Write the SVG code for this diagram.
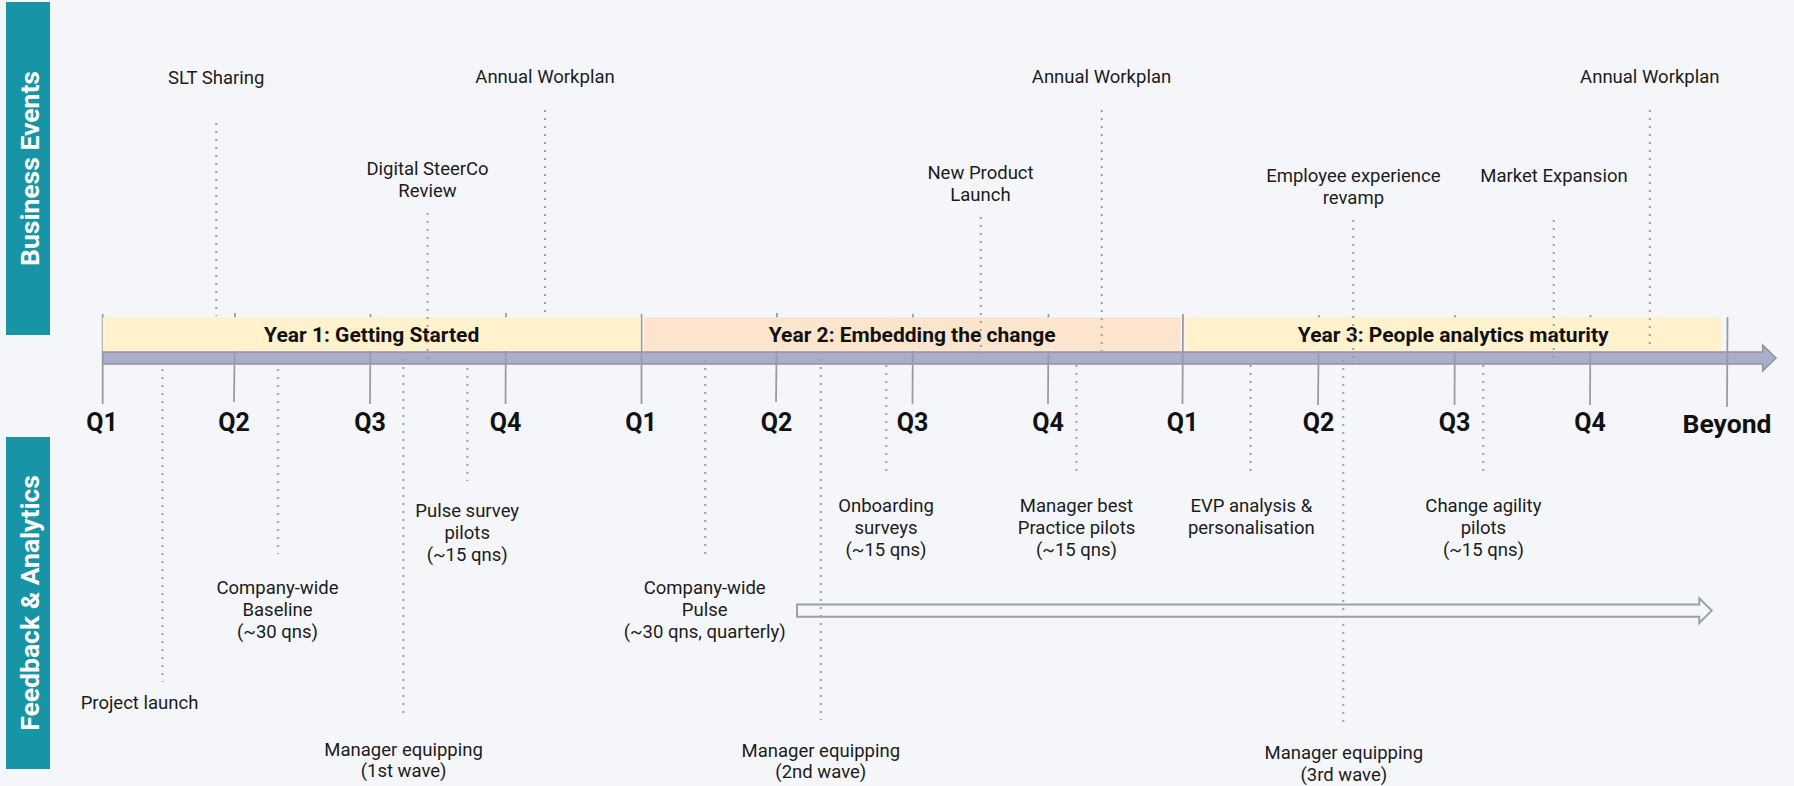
<svg xmlns="http://www.w3.org/2000/svg" width="1794" height="786" viewBox="0 0 1794 786">
  <style>
    .side { fill: #1795a6; }
    .side-label { font-family: Roboto, "Liberation Sans", sans-serif; font-weight: 700; font-size: 26.5px; fill: #ffffff; text-anchor: middle; }
    .tick { stroke: #989da5; stroke-width: 1.8; fill: none; }
    .dot { stroke: #9ba0a8; stroke-width: 2; stroke-dasharray: 2 6; fill: none; }
    .year-label { font-family: Roboto, "Liberation Sans", sans-serif; font-weight: 700; font-size: 21px; fill: #111111; text-anchor: middle; }
    .q { font-family: Roboto, "Liberation Sans", sans-serif; font-weight: 700; font-size: 25px; fill: #111111; text-anchor: middle; }
    .lbl { font-family: Roboto, "Liberation Sans", sans-serif; font-size: 18.5px; fill: #1c1c1c; text-anchor: middle; }
  </style>

  <!-- page -->
  <rect x="0" y="0" width="1794" height="786" fill="#f4f6fa"/>

  <!-- swimlane headers -->
  <g id="lane-business">
    <rect class="side" x="6" y="2" width="44" height="333"/>
    <text class="side-label" transform="translate(38.5,168.5) rotate(-90)">Business Events</text>
  </g>
  <g id="lane-feedback">
    <rect class="side" x="6" y="437" width="44" height="332"/>
    <text class="side-label" transform="translate(38.5,603) rotate(-90)">Feedback &amp; Analytics</text>
  </g>

  <!-- timeline axis -->
  <g id="axis">
    <polygon points="102.7,352 1762.7,352 1762.7,345 1776,358 1762.7,371 1762.7,364 102.7,364" fill="#a9aec9" stroke="#8e939d" stroke-width="1.5"/>
    <g id="quarter-ticks">
      <line class="tick" x1="102.7" y1="314" x2="102.7" y2="404"/>
      <line class="tick" x1="235" y1="313" x2="234" y2="402"/>
      <line class="tick" x1="370.5" y1="314" x2="370" y2="404"/>
      <line class="tick" x1="506" y1="313" x2="505.5" y2="404"/>
      <line class="tick" x1="641.5" y1="314" x2="641.5" y2="404"/>
      <line class="tick" x1="777" y1="313" x2="776" y2="402"/>
      <line class="tick" x1="913" y1="314" x2="912.5" y2="404"/>
      <line class="tick" x1="1048.5" y1="314" x2="1048" y2="404"/>
      <line class="tick" x1="1183" y1="314" x2="1182.5" y2="404"/>
      <line class="tick" x1="1319" y1="315" x2="1318" y2="405"/>
      <line class="tick" x1="1455" y1="315" x2="1454.5" y2="405"/>
      <line class="tick" x1="1590.5" y1="315" x2="1590" y2="405"/>
      <line class="tick" x1="1727.5" y1="317" x2="1727" y2="407"/>
    </g>
  </g>

  <!-- year bands -->
  <g id="year-1">
    <rect x="102.7" y="317.3" width="538" height="33.7" fill="#fff2cc"/>
    <text class="year-label" x="371.7" y="341.5">Year 1: Getting Started</text>
  </g>
  <g id="year-2">
    <rect x="643.7" y="317.3" width="537" height="33.7" fill="#fde5cd"/>
    <text class="year-label" x="912.2" y="341.5">Year 2: Embedding the change</text>
  </g>
  <g id="year-3">
    <rect x="1184.7" y="317.3" width="537" height="33.7" fill="#fff2cc"/>
    <text class="year-label" x="1453.2" y="341.5">Year 3: People analytics maturity</text>
  </g>

  <!-- quarter labels -->
  <g id="quarter-labels">
    <text class="q" x="102" y="431">Q1</text>
    <text class="q" x="234" y="431">Q2</text>
    <text class="q" x="370" y="431">Q3</text>
    <text class="q" x="505.5" y="431">Q4</text>
    <text class="q" x="641" y="431">Q1</text>
    <text class="q" x="776.5" y="431">Q2</text>
    <text class="q" x="912.5" y="431">Q3</text>
    <text class="q" x="1048" y="431">Q4</text>
    <text class="q" x="1182.5" y="431">Q1</text>
    <text class="q" x="1318.5" y="431">Q2</text>
    <text class="q" x="1454.5" y="431">Q3</text>
    <text class="q" x="1590" y="431">Q4</text>
    <text class="q" x="1727" y="433" style="font-size:26.5px">Beyond</text>
  </g>

  <!-- ongoing quarterly pulse -->
  <g id="pulse-arrow">
    <polygon points="797,604.5 1699.3,604.5 1699.3,598.3 1711.7,610.6 1699.3,623 1699.3,616.7 797,616.7" fill="none" stroke="#9ba0a8" stroke-width="2"/>
  </g>

  <!-- event leader lines -->
  <g id="connectors">
    <line class="dot" x1="216.2" y1="123" x2="216.2" y2="316"/>
    <line class="dot" x1="427.5" y1="213" x2="427.5" y2="360"/>
    <line class="dot" x1="545" y1="110" x2="545" y2="312"/>
    <line class="dot" x1="980.8" y1="217" x2="980.8" y2="354"/>
    <line class="dot" x1="1101.7" y1="110" x2="1101.7" y2="351"/>
    <line class="dot" x1="1353.2" y1="220" x2="1353.2" y2="365"/>
    <line class="dot" x1="1553.7" y1="220" x2="1553.7" y2="365"/>
    <line class="dot" x1="1649.8" y1="110" x2="1649.8" y2="350"/>

    <line class="dot" x1="162.5" y1="369" x2="162.5" y2="682"/>
    <line class="dot" x1="278.2" y1="369" x2="278.2" y2="554"/>
    <line class="dot" x1="403.4" y1="359" x2="403.4" y2="719"/>
    <line class="dot" x1="467.3" y1="368" x2="467.3" y2="481"/>
    <line class="dot" x1="705.2" y1="360" x2="705.2" y2="554"/>
    <line class="dot" x1="820.8" y1="359" x2="820.8" y2="720"/>
    <line class="dot" x1="886.3" y1="365" x2="886.3" y2="476"/>
    <line class="dot" x1="1076.5" y1="365" x2="1076.5" y2="476"/>
    <line class="dot" x1="1250.6" y1="365" x2="1250.6" y2="476"/>
    <line class="dot" x1="1343.3" y1="360" x2="1343.3" y2="722"/>
    <line class="dot" x1="1483.3" y1="365" x2="1483.3" y2="476"/>
  </g>

  <!-- business events -->
  <g id="ev-slt-sharing">
    <text class="lbl" x="216.2" y="84">SLT Sharing</text>
  </g>
  <g id="ev-digital-steerco">
    <text class="lbl" x="427.5" y="175">Digital SteerCo</text>
    <text class="lbl" x="427.5" y="197">Review</text>
  </g>
  <g id="ev-workplan-1">
    <text class="lbl" x="545" y="83">Annual Workplan</text>
  </g>
  <g id="ev-product-launch">
    <text class="lbl" x="980.5" y="179">New Product</text>
    <text class="lbl" x="980.5" y="201">Launch</text>
  </g>
  <g id="ev-workplan-2">
    <text class="lbl" x="1101.5" y="83">Annual Workplan</text>
  </g>
  <g id="ev-ex-revamp">
    <text class="lbl" x="1353.4" y="181.5">Employee experience</text>
    <text class="lbl" x="1353.4" y="203.5">revamp</text>
  </g>
  <g id="ev-market-expansion">
    <text class="lbl" x="1554" y="181.5">Market Expansion</text>
  </g>
  <g id="ev-workplan-3">
    <text class="lbl" x="1649.8" y="83">Annual Workplan</text>
  </g>

  <!-- feedback & analytics activities -->
  <g id="fa-project-launch">
    <text class="lbl" x="139.5" y="708.5">Project launch</text>
  </g>
  <g id="fa-baseline">
    <text class="lbl" x="277.5" y="594">Company-wide</text>
    <text class="lbl" x="277.5" y="616">Baseline</text>
    <text class="lbl" x="277.5" y="638">(~30 qns)</text>
  </g>
  <g id="fa-manager-1">
    <text class="lbl" x="403.6" y="755.5">Manager equipping</text>
    <text class="lbl" x="403.6" y="777">(1st wave)</text>
  </g>
  <g id="fa-pulse-pilots">
    <text class="lbl" x="467.2" y="517">Pulse survey</text>
    <text class="lbl" x="467.2" y="539">pilots</text>
    <text class="lbl" x="467.2" y="560.5">(~15 qns)</text>
  </g>
  <g id="fa-company-pulse">
    <text class="lbl" x="704.7" y="594">Company-wide</text>
    <text class="lbl" x="704.7" y="616">Pulse</text>
    <text class="lbl" x="704.7" y="638">(~30 qns, quarterly)</text>
  </g>
  <g id="fa-manager-2">
    <text class="lbl" x="820.8" y="756.5">Manager equipping</text>
    <text class="lbl" x="820.8" y="778">(2nd wave)</text>
  </g>
  <g id="fa-onboarding">
    <text class="lbl" x="886" y="512">Onboarding</text>
    <text class="lbl" x="886" y="534">surveys</text>
    <text class="lbl" x="886" y="556">(~15 qns)</text>
  </g>
  <g id="fa-manager-best-practice">
    <text class="lbl" x="1076.5" y="512">Manager best</text>
    <text class="lbl" x="1076.5" y="534">Practice pilots</text>
    <text class="lbl" x="1076.5" y="556">(~15 qns)</text>
  </g>
  <g id="fa-evp">
    <text class="lbl" x="1251.3" y="512">EVP analysis &amp;</text>
    <text class="lbl" x="1251.3" y="534">personalisation</text>
  </g>
  <g id="fa-manager-3">
    <text class="lbl" x="1343.8" y="759">Manager equipping</text>
    <text class="lbl" x="1343.8" y="781">(3rd wave)</text>
  </g>
  <g id="fa-change-agility">
    <text class="lbl" x="1483.4" y="512">Change agility</text>
    <text class="lbl" x="1483.4" y="534">pilots</text>
    <text class="lbl" x="1483.4" y="556">(~15 qns)</text>
  </g>
</svg>
